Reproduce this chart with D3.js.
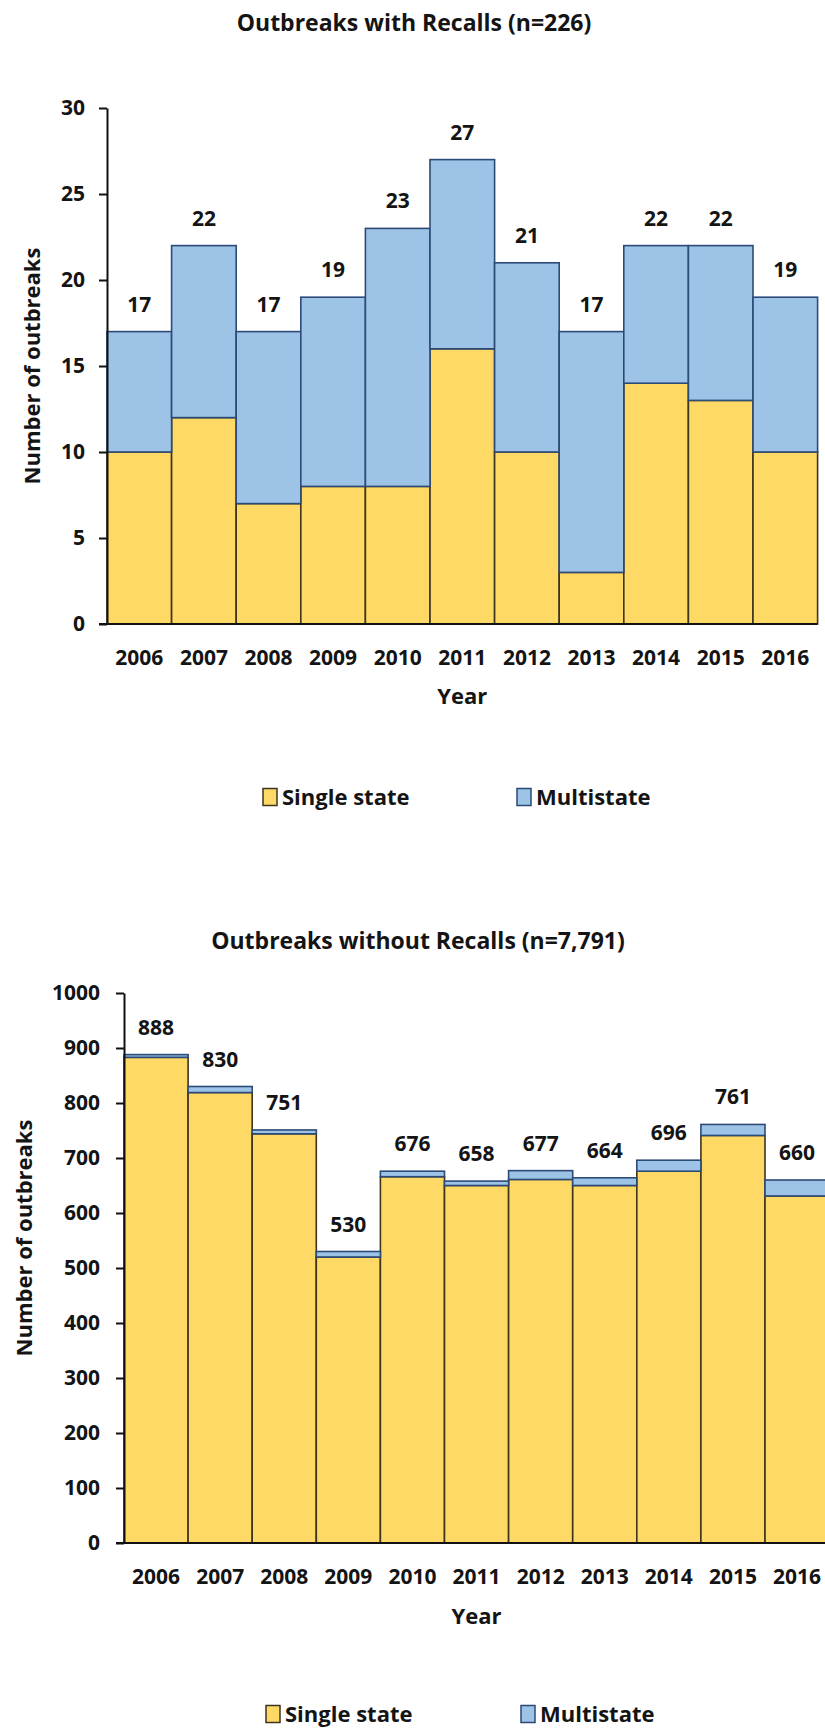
<!DOCTYPE html>
<html>
<head>
<meta charset="utf-8">
<script src="https://cdn.jsdelivr.net/npm/d3@7"></script>
<style>
  body { margin: 0; background: #fff; }
  svg text { font-family: "Open Sans", sans-serif; font-weight: 700; fill: #141414; }
</style>
</head>
<body>
<div id="chart"></div>
<script>
var years = ["2006", "2007", "2008", "2009", "2010", "2011", "2012", "2013", "2014", "2015", "2016"];

// outbreaks with recalls
var recallSingle = [10, 12, 7, 8, 8, 16, 10, 3, 14, 13, 10];
var recallMulti = [7, 10, 10, 11, 15, 11, 11, 14, 8, 9, 9];
var recallTicks = [0, 5, 10, 15, 20, 25, 30];

// outbreaks without recalls
var otherSingle = [883, 819, 744, 520, 666, 650, 661, 650, 676, 741, 631];
var otherMulti = [5, 11, 7, 10, 10, 8, 16, 14, 20, 20, 29];
var otherTicks = [0, 100, 200, 300, 400, 500, 600, 700, 800, 900, 1000];

var seriesNames = ["Single state", "Multistate"];
var fills = ["#FFD966", "#9DC3E6"];
var strokes = ["#3d3520", "#2c4a78"];

var svg = d3
  .select("#chart")
  .append("svg")
  .attr("width", 825)
  .attr("height", 1730);

drawPanel({
  title: "Outbreaks with Recalls (n=226)",
  titleX: 414, titleY: 31,
  single: recallSingle, multi: recallMulti, ticks: recallTicks,
  left: 107, step: 64.6, top: 108, bottom: 624,
  tickPad: 14, ylabelX: 32, ylabelY: 366,
  yearY: 704, legendY: 797, legendX: [263, 517]
});

drawPanel({
  title: "Outbreaks without Recalls (n=7,791)",
  titleX: 418, titleY: 949,
  single: otherSingle, multi: otherMulti, ticks: otherTicks,
  left: 124, step: 64.1, top: 993, bottom: 1543,
  tickPad: 16, ylabelX: 24, ylabelY: 1238,
  yearY: 1624, legendY: 1714, legendX: [266, 521]
});

function drawPanel(p) {
  var rows = years.map(function (yr, i) {
    return { year: yr, single: p.single[i], multi: p.multi[i] };
  });
  var max = p.ticks[p.ticks.length - 1];

  var x = d3
    .scaleBand()
    .domain(years)
    .range([p.left, p.left + p.step * years.length])
    .padding(0);
  var y = d3.scaleLinear().domain([0, max]).range([p.bottom, p.top]);

  var g = svg.append("g");

  g.append("text")
    .attr("x", p.titleX)
    .attr("y", p.titleY)
    .attr("text-anchor", "middle")
    .style("font-size", "23px")
    .text(p.title);

  // stacked bars
  var stacked = d3.stack().keys(["single", "multi"])(rows);
  var layers = g
    .selectAll("g.layer")
    .data(stacked)
    .enter()
    .append("g")
    .attr("class", "layer")
    .attr("fill", function (d, i) { return fills[i]; })
    .attr("stroke", function (d, i) { return strokes[i]; })
    .attr("stroke-width", 1.6);
  layers
    .selectAll("rect")
    .data(function (d) { return d; })
    .enter()
    .append("rect")
    .attr("x", function (d) { return x(d.data.year); })
    .attr("width", x.bandwidth())
    .attr("y", function (d) { return y(d[1]); })
    .attr("height", function (d) { return y(d[0]) - y(d[1]); });

  // totals
  g.selectAll("text.total")
    .data(rows)
    .enter()
    .append("text")
    .attr("class", "total")
    .attr("x", function (d) { return x(d.year) + x.bandwidth() / 2; })
    .attr("y", function (d) { return y(d.single + d.multi) - 20; })
    .attr("text-anchor", "middle")
    .style("font-size", "21px")
    .text(function (d) { return d.single + d.multi; });

  // y axis
  var yAxis = g
    .append("g")
    .attr("transform", "translate(" + p.left + ",0)")
    .call(
      d3.axisLeft(y)
        .tickValues(p.ticks)
        .tickFormat(d3.format("d"))
        .tickSize(8)
        .tickSizeOuter(0)
        .tickPadding(p.tickPad)
    );
  yAxis.select(".domain").attr("stroke", "#111").attr("stroke-width", 2);
  yAxis.selectAll(".tick line").attr("stroke", "#111").attr("stroke-width", 2);
  yAxis.selectAll("text").attr("fill", null).style("font-size", "21px");

  // x axis
  var xAxis = g
    .append("g")
    .attr("transform", "translate(0," + p.bottom + ")")
    .call(d3.axisBottom(x).tickSize(0).tickPadding(26));
  xAxis.select(".domain").remove();
  xAxis.selectAll("text").attr("fill", null).style("font-size", "21px");
  g.append("line")
    .attr("x1", p.left - 8)
    .attr("x2", x.range()[1])
    .attr("y1", p.bottom)
    .attr("y2", p.bottom)
    .attr("stroke", "#111")
    .attr("stroke-width", 2.2);

  // axis titles
  g.append("text")
    .attr("x", (x.range()[0] + x.range()[1]) / 2)
    .attr("y", p.yearY)
    .attr("text-anchor", "middle")
    .style("font-size", "22px")
    .text("Year");
  g.append("text")
    .attr("transform", "translate(" + p.ylabelX + "," + p.ylabelY + ") rotate(-90)")
    .attr("dy", "0.35em")
    .attr("text-anchor", "middle")
    .style("font-size", "22px")
    .text("Number of outbreaks");

  // legend
  var legend = g
    .selectAll("g.legend")
    .data(seriesNames)
    .enter()
    .append("g")
    .attr("class", "legend")
    .attr("transform", function (d, i) {
      return "translate(" + p.legendX[i] + "," + p.legendY + ")";
    });
  legend
    .append("rect")
    .attr("x", 0)
    .attr("y", -8.5)
    .attr("width", 14)
    .attr("height", 17)
    .attr("fill", function (d, i) { return fills[i]; })
    .attr("stroke", function (d, i) { return strokes[i]; })
    .attr("stroke-width", 1.5);
  legend
    .append("text")
    .attr("x", 19)
    .attr("dy", "0.36em")
    .style("font-size", "22px")
    .text(function (d) { return d; });
}
</script>
</body>
</html>
